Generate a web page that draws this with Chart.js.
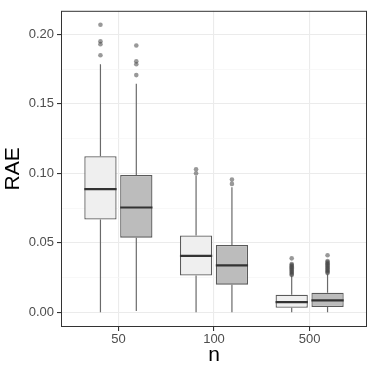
<!DOCTYPE html>
<html>
<head>
<meta charset="utf-8">
<script src="https://cdn.jsdelivr.net/npm/chart.js@4"></script>
<style>
    html, body { margin: 0; padding: 0; background: #fff; }
    #wrap { width: 374px; height: 374px; }
</style>
</head>
<body>
<div id="wrap"><canvas id="boxChart"></canvas></div>
<script>
// categories on the x axis
const sizes = ['50', '100', '500'];

// light boxes (first series)
const lightLow  = [0.000, 0.000, 0.000];
const lightQ1   = [0.0667, 0.0265, 0.0033];
const lightMed  = [0.0887, 0.0406, 0.0073];
const lightQ3   = [0.1123, 0.0553, 0.0126];
const lightHigh = [0.1785, 0.0983, 0.0262];
const lightOut  = [
    [0.207, 0.195, 0.193, 0.185],
    [0.103, 0.100],
    [0.0388, 0.0348, 0.0340, 0.0332, 0.0324, 0.0316, 0.0308, 0.0300, 0.0292, 0.0284, 0.0276, 0.0268]
];

// dark boxes (second series)
const darkLow  = [0.001, 0.000, 0.000];
const darkQ1   = [0.0537, 0.0199, 0.0038];
const darkMed  = [0.0754, 0.0338, 0.0085];
const darkQ3   = [0.0988, 0.0485, 0.0140];
const darkHigh = [0.1645, 0.0900, 0.0274];
const darkOut  = [
    [0.192, 0.1806, 0.1785, 0.1707],
    [0.0955, 0.0924],
    [0.0410, 0.0369, 0.0361, 0.0353, 0.0345, 0.0337, 0.0329, 0.0321, 0.0313, 0.0305, 0.0297, 0.0289, 0.0282]
];

// y axis ticks
const yMajor = [0, 0.05, 0.10, 0.15, 0.20];
const yMinor = [0.025, 0.075, 0.125, 0.175];

const dodge = 0.1875;      // half of the dodge width (0.75 / 2 / 2... ggplot style)
const halfBox = 0.16875;   // half box width

function pos(i, side) { return i + 1 + side * dodge; }

function boxes(q1, q3) {
    return sizes.map((s, i) => ({ x: i + 1, y: [q1[i], q3[i]] }));
}

function whiskers(low, q1, q3, high, side) {
    const pts = [];
    sizes.forEach((s, i) => {
        const x = pos(i, side);
        pts.push({ x: x, y: low[i] }, { x: x, y: q1[i] }, { x: x, y: null });
        pts.push({ x: x, y: q3[i] }, { x: x, y: high[i] }, { x: x, y: null });
    });
    return pts;
}

function medians(med, side) {
    const pts = [];
    sizes.forEach((s, i) => {
        const x = pos(i, side);
        pts.push({ x: x - halfBox, y: med[i] }, { x: x + halfBox, y: med[i] }, { x: x, y: null });
    });
    return pts;
}

function outliers(out, side) {
    const pts = [];
    out.forEach((vals, i) => vals.forEach(v => pts.push({ x: pos(i, side), y: v })));
    return pts;
}

const isMajor = v => yMajor.some(m => Math.abs(m - v) < 1e-9);

// panel border like theme_bw
const panelBorder = {
    id: 'panelBorder',
    afterDraw(chart) {
        const a = chart.chartArea;
        const ctx = chart.ctx;
        ctx.save();
        ctx.strokeStyle = '#333333';
        ctx.lineWidth = 1;
        ctx.strokeRect(a.left + 0.5, a.top + 0.5, a.right - a.left - 1, a.bottom - a.top - 1);
        ctx.restore();
    }
};

const lineStyle = {
    type: 'line',
    borderColor: '#6a6a6a',
    borderWidth: 1.2,
    pointRadius: 0,
    pointHoverRadius: 0,
    spanGaps: false,
    fill: false,
    order: 4
};

const ctx = document.getElementById('boxChart').getContext('2d');
new Chart(ctx, {
    type: 'bar',
    data: {
        datasets: [
            {
                label: 'light',
                data: boxes(lightQ1, lightQ3),
                backgroundColor: '#efefef',
                borderColor: '#5a5a5a',
                borderWidth: 1.3,
                borderSkipped: false,
                barPercentage: 0.9,
                categoryPercentage: 0.75,
                order: 3
            },
            {
                label: 'dark',
                data: boxes(darkQ1, darkQ3),
                backgroundColor: '#bcbcbc',
                borderColor: '#5a5a5a',
                borderWidth: 1.3,
                borderSkipped: false,
                barPercentage: 0.9,
                categoryPercentage: 0.75,
                order: 3
            },
            Object.assign({}, lineStyle, { label: 'wl', data: whiskers(lightLow, lightQ1, lightQ3, lightHigh, -1) }),
            Object.assign({}, lineStyle, { label: 'wd', data: whiskers(darkLow, darkQ1, darkQ3, darkHigh, 1) }),
            Object.assign({}, lineStyle, { label: 'ml', data: medians(lightMed, -1), borderColor: '#333333', borderWidth: 2.2, order: 1 }),
            Object.assign({}, lineStyle, { label: 'md', data: medians(darkMed, 1), borderColor: '#333333', borderWidth: 2.2, order: 1 }),
            {
                type: 'scatter',
                label: 'ol',
                data: outliers(lightOut, -1),
                backgroundColor: 'rgba(70,70,70,0.55)',
                borderWidth: 0,
                pointRadius: 2.3,
                order: 2
            },
            {
                type: 'scatter',
                label: 'od',
                data: outliers(darkOut, 1),
                backgroundColor: 'rgba(70,70,70,0.55)',
                borderWidth: 0,
                pointRadius: 2.3,
                order: 2
            }
        ]
    },
    options: {
        responsive: true,
        maintainAspectRatio: false,
        animation: false,
        layout: { padding: { top: 6, right: 7, left: 0, bottom: 0 } },
        plugins: {
            legend: { display: false },
            tooltip: { enabled: false }
        },
        scales: {
            x: {
                type: 'linear',
                min: 0.4,
                max: 3.6,
                offset: false,
                afterBuildTicks: scale => {
                    scale.ticks = sizes.map((s, i) => ({ value: i + 1 }));
                },
                afterFit: scale => { scale.height = 47; },
                ticks: {
                    callback: value => sizes[Math.round(value) - 1],
                    color: '#4d4d4d',
                    font: { family: 'Liberation Sans, Arial, sans-serif', size: 13 },
                    padding: 1,
                    maxRotation: 0,
                    autoSkip: false
                },
                grid: {
                    offset: false,
                    color: '#ebebeb',
                    lineWidth: 1.1,
                    tickColor: '#333333',
                    tickLength: 4
                },
                border: { display: false },
                title: {
                    display: true,
                    text: 'n',
                    color: '#000000',
                    font: { family: 'Liberation Sans, Arial, sans-serif', size: 21 },
                    padding: { top: 0, bottom: 6 }
                }
            },
            y: {
                min: -0.0106,
                max: 0.217,
                afterBuildTicks: scale => {
                    scale.ticks = yMajor.concat(yMinor).sort((a, b) => a - b).map(v => ({ value: v }));
                },
                afterFit: scale => { scale.width = 61; },
                ticks: {
                    callback: value => isMajor(value) ? value.toFixed(2) : '',
                    color: '#4d4d4d',
                    font: { family: 'Liberation Sans, Arial, sans-serif', size: 13 },
                    padding: 3,
                    autoSkip: false
                },
                grid: {
                    color: c => isMajor(c.tick.value) ? '#ebebeb' : '#f5f5f5',
                    lineWidth: c => isMajor(c.tick.value) ? 1.1 : 0.7,
                    tickColor: c => isMajor(c.tick.value) ? '#333333' : 'rgba(0,0,0,0)',
                    tickLength: 4
                },
                border: { display: false },
                title: {
                    display: true,
                    text: 'RAE',
                    color: '#000000',
                    font: { family: 'Liberation Sans, Arial, sans-serif', size: 21 },
                    padding: { top: 1, bottom: 0 }
                }
            }
        }
    },
    plugins: [panelBorder]
});
</script>
</body>
</html>
